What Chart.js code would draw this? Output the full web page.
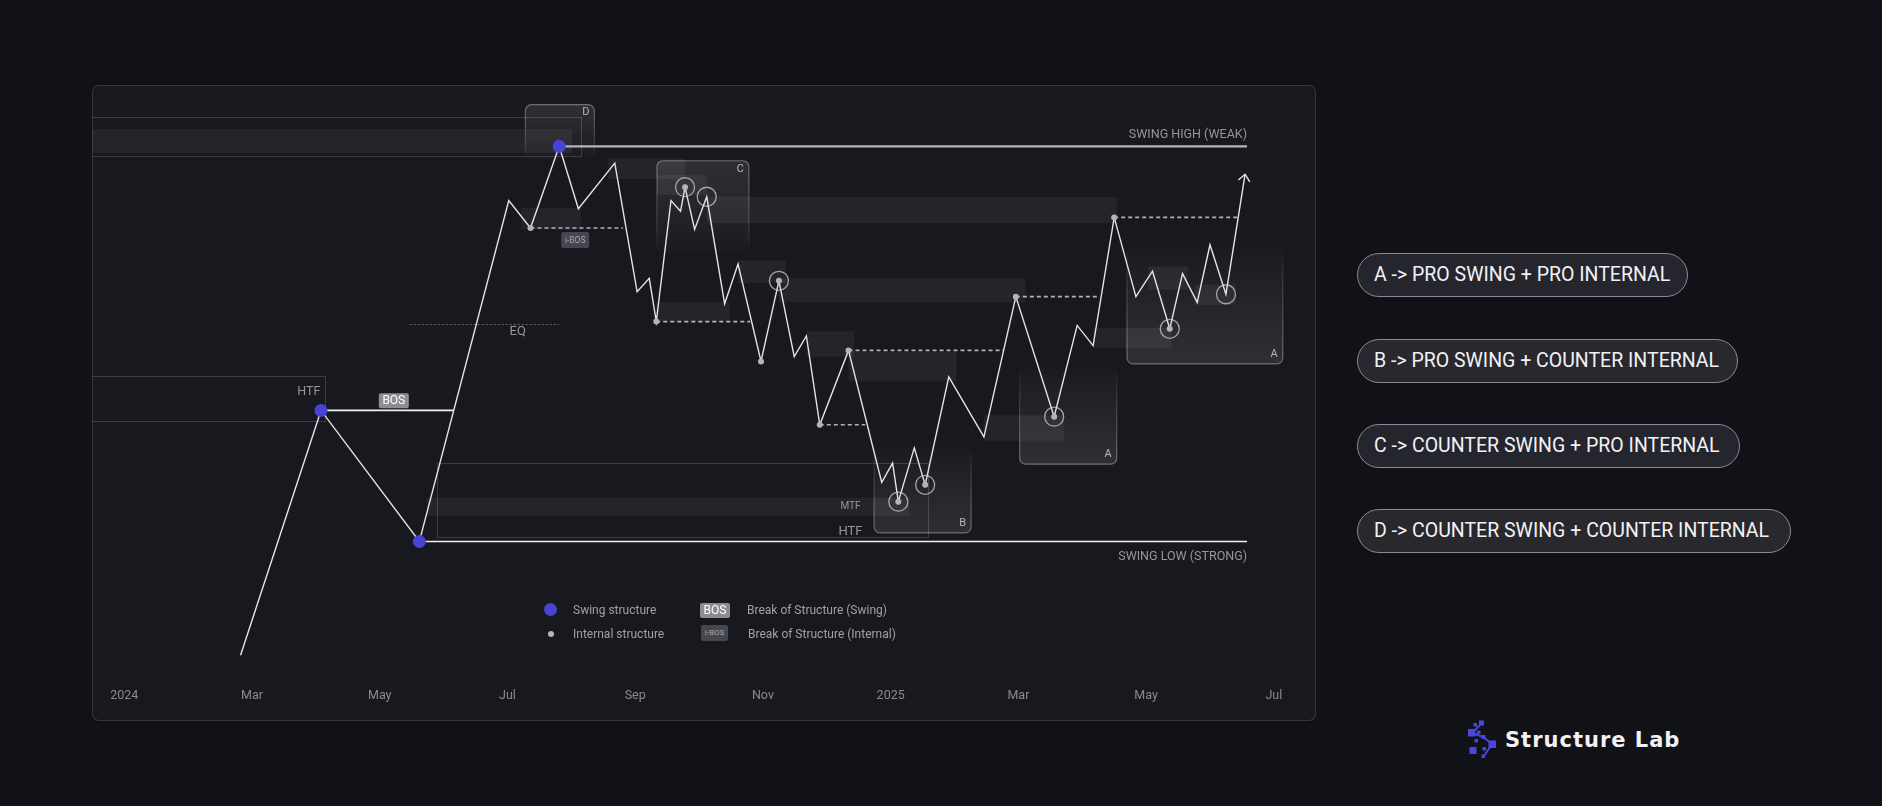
<!DOCTYPE html>
<html>
<head>
<meta charset="utf-8">
<title>Structure Lab</title>
<script src="https://cdn.jsdelivr.net/npm/chart.js@4.4.1/dist/chart.umd.min.js"></script>
<style>
html, body { margin: 0; padding: 0; background: #111118; }
body { width: 1882px; height: 806px; position: relative; overflow: hidden; font-family: Roboto, "Noto Sans", sans-serif; }
#panel { position: absolute; left: 92px; top: 85px; width: 1222px; height: 634px; border: 1px solid rgba(255,255,255,0.13); border-radius: 7px; background: #18181f; }
#wrap { position: absolute; left: 92px; top: 85px; width: 1224px; height: 636px; }
.lg { position: absolute; color: #a0a0a8; font-size: 12px; line-height: 14px; white-space: nowrap; transform: translateY(-50%); }
.dot { position: absolute; border-radius: 50%; }
.badge { position: absolute; border-radius: 2px; text-align: center; }
.pill { position: absolute; left: 1357px; height: 44px; box-sizing: border-box; border: 1.5px solid #8a8a92; border-radius: 22px; background: #25262d; color: #f2f2f5; font-size: 19.5px; line-height: 41px; padding-left: 16px; white-space: nowrap; }
#brand { position: absolute; left: 1505px; top: 727px; color: #f2f2f6; font-family: "DejaVu Sans", sans-serif; font-weight: bold; font-size: 21px; line-height: 26px; letter-spacing: 1px; }
</style>
</head>
<body>
<div id="panel"></div>
<div id="wrap"><canvas id="chart"></canvas></div>

<div class="dot" style="left:544px;top:603px;width:13px;height:13px;background:#4843d6;"></div>
<div class="lg" style="left:573px;top:610px;">Swing structure</div>
<div class="dot" style="left:548px;top:631px;width:6px;height:6px;background:#b4b4bc;"></div>
<div class="lg" style="left:573px;top:634px;">Internal structure</div>
<div class="badge" style="left:700px;top:603px;width:30px;height:15px;background:#8c8c94;color:#fff;font-size:12px;line-height:15px;">BOS</div>
<div class="lg" style="left:747px;top:610px;">Break of Structure (Swing)</div>
<div class="badge" style="left:701px;top:625px;width:27px;height:16px;background:#46464e;color:#a8a8b0;font-size:8px;line-height:16px;">i-BOS</div>
<div class="lg" style="left:748px;top:634px;">Break of Structure (Internal)</div>

<div class="pill" style="top:253px;width:331px;">A -&gt; PRO SWING + PRO INTERNAL</div>
<div class="pill" style="top:339px;width:381px;background:#29282f;">B -&gt; PRO SWING + COUNTER INTERNAL</div>
<div class="pill" style="top:424px;width:383px;">C -&gt; COUNTER SWING + PRO INTERNAL</div>
<div class="pill" style="top:509px;width:434px;background:#29292d;">D -&gt; COUNTER SWING + COUNTER INTERNAL</div>

<svg style="position:absolute;left:1462px;top:716px;" width="44" height="46" viewBox="0 0 44 46">
  <g fill="#4b46e0" stroke="#4b46e0" stroke-width="2">
    <line x1="10" y1="17" x2="19" y2="8" />
    <line x1="10" y1="17" x2="21" y2="21" />
    <line x1="21" y1="21" x2="30" y2="28" />
    <line x1="30" y1="28" x2="22" y2="40" />
    <rect x="17" y="4.5" width="5" height="5" stroke="none" />
    <rect x="11.5" y="7" width="3.5" height="3.5" stroke="none" />
    <rect x="6" y="13" width="7.5" height="7.5" stroke="none" />
    <rect x="15" y="14.5" width="3.5" height="3.5" stroke="none" />
    <rect x="19.5" y="19" width="4" height="4" stroke="none" />
    <rect x="12.5" y="23" width="3.5" height="3.5" stroke="none" />
    <rect x="26.5" y="24.5" width="7.5" height="7.5" stroke="none" />
    <rect x="7.5" y="31" width="7" height="7" stroke="none" />
    <rect x="20.5" y="31" width="3.5" height="3.5" stroke="none" />
    <rect x="19.5" y="38.5" width="3.5" height="3.5" stroke="none" />
  </g>
</svg>
<div id="brand">Structure Lab</div>

<script>
// x = months since Jan 2024, y = price
var tickLabels = ["2024", "Mar", "May", "Jul", "Sep", "Nov", "2025", "Mar", "May", "Jul"];

var pathMonth = [1.82, 3.08, 4.62, 6.02, 6.36, 6.81, 7.11, 7.68, 8.03, 8.22, 8.33, 8.56, 8.71, 8.78, 8.93, 9.12, 9.40, 9.61, 9.97, 10.25, 10.49, 10.68, 10.89, 11.34, 11.86, 12.03, 12.12, 12.37, 12.54, 12.91, 13.46, 13.96, 14.56, 14.92, 15.17, 15.50, 15.84, 16.10, 16.37, 16.57, 16.80, 17.00, 17.25, 17.55];
var pathPrice = [56.4, 107.4, 80.1, 151.1, 145.4, 162.4, 149.4, 158.9, 132.1, 134.9, 125.9, 151.1, 148.9, 153.9, 145.1, 151.9, 129.6, 137.9, 117.6, 134.4, 118.6, 122.9, 104.4, 119.9, 92.4, 96.4, 88.4, 99.6, 91.9, 114.4, 101.9, 131.1, 106.1, 125.1, 120.9, 147.6, 131.1, 136.4, 124.4, 135.9, 129.9, 141.9, 131.6, 156.6];

var swingMonth = [3.08, 4.62, 6.81];
var swingPrice = [107.4, 80.1, 162.4];

var internalMonth = [6.36, 8.33, 8.78, 9.97, 10.25, 10.89, 11.34, 12.12, 12.54, 13.96, 14.56, 15.50, 16.37];
var internalPrice = [145.4, 125.9, 153.9, 117.6, 134.4, 104.4, 119.9, 88.4, 91.9, 131.1, 106.1, 147.6, 124.4];

var ringMonth = [8.78, 9.12, 10.25, 12.12, 12.54, 14.56, 16.37, 17.25];
var ringPrice = [153.9, 151.9, 134.4, 88.4, 91.9, 106.1, 124.4, 131.6];

// swing high, swing low, BOS
var levelFrom = [6.81, 4.62, 3.08];
var levelTo = [17.58, 17.58, 5.15];
var levelPrice = [162.4, 80.1, 107.4];

var iBosFrom = [6.36, 8.33, 10.89, 11.34, 13.96, 15.50];
var iBosTo = [7.81, 9.80, 11.60, 13.76, 15.26, 17.45];
var iBosPrice = [145.4, 125.9, 104.4, 119.9, 131.1, 147.6];

var eqFrom = 4.47, eqTo = 6.81, eqPrice = 125.3;

// order blocks
var zoneFrom = [-0.6, 6.21, 7.58, 9.12, 9.61, 10.25, 8.33, 10.68, 11.34, 13.46, 15.17, 16.03, 16.76, 4.74, 8.34];
var zoneTo = [7.01, 7.15, 8.78, 15.54, 10.36, 14.11, 9.48, 11.43, 13.03, 14.71, 16.40, 16.65, 17.40, 12.29, 9.12];
var zoneTop = [166.0, 149.6, 159.9, 151.9, 138.6, 134.9, 129.9, 123.9, 119.6, 106.4, 124.6, 137.4, 133.6, 89.2, 156.4];
var zoneBottom = [161.0, 145.1, 155.6, 146.4, 133.9, 129.9, 125.9, 118.6, 113.4, 101.1, 120.4, 132.6, 129.4, 85.4, 152.3];

// HTF ranges
var rangeFrom = [-0.6, -0.6, 4.90];
var rangeTo = [7.15, 3.15, 12.58];
var rangeTop = [168.5, 114.6, 96.4];
var rangeBottom = [160.4, 105.2, 81.0];

// A/B/C/D examples
var cardName = ["D", "C", "B", "A", "A"];
var cardFrom = [6.28, 8.34, 11.74, 14.02, 15.70];
var cardTo = [7.36, 9.78, 13.26, 15.54, 18.14];
var cardTop = [171.1, 159.4, 99.6, 116.2, 141.2];
var cardBottom = [159.8, 140.4, 81.9, 96.2, 117.1];

var noteText = ["SWING HIGH (WEAK)", "SWING LOW (STRONG)", "EQ", "HTF", "MTF", "HTF"];
var noteMonth = [17.58, 17.58, 6.16, 3.07, 11.37, 11.37];
var notePrice = [164.8, 76.9, 123.8, 111.2, 87.3, 82.1];

var badgeText = ["BOS", "i-BOS"];
var badgeMonth = [4.22, 7.06];
var badgePrice = [109.4, 142.9];

var toPoints = function (xs, ys) {
  return xs.map(function (v, i) { return { x: v, y: ys[i] }; });
};

var segments = function (from, to, price) {
  var out = [];
  from.forEach(function (f, i) {
    out.push({ x: f, y: price[i] }, { x: to[i], y: price[i] }, { x: to[i], y: null });
  });
  return out;
};

var roundRect = function (ctx, x, y, w, h, r) {
  ctx.beginPath();
  ctx.moveTo(x + r, y);
  ctx.arcTo(x + w, y, x + w, y + h, r);
  ctx.arcTo(x + w, y + h, x, y + h, r);
  ctx.arcTo(x, y + h, x, y, r);
  ctx.arcTo(x, y, x + w, y, r);
  ctx.closePath();
};

var structurePlugin = {
  id: "structure",
  beforeDatasetsDraw: function (chart) {
    var ctx = chart.ctx, a = chart.chartArea, x = chart.scales.x, y = chart.scales.y;
    ctx.save();
    ctx.beginPath();
    ctx.rect(a.left, a.top, a.width, a.height);
    ctx.clip();

    ctx.fillStyle = "rgba(255,255,255,0.055)";
    for (var i = 0; i < zoneFrom.length; i++) {
      var l = x.getPixelForValue(zoneFrom[i]), r = x.getPixelForValue(zoneTo[i]);
      var t = y.getPixelForValue(zoneTop[i]), b = y.getPixelForValue(zoneBottom[i]);
      ctx.fillRect(l, t, r - l, b - t);
    }

    ctx.strokeStyle = "rgba(255,255,255,0.15)";
    ctx.lineWidth = 1;
    for (var j = 0; j < rangeFrom.length; j++) {
      var l2 = Math.round(x.getPixelForValue(rangeFrom[j])) + 0.5, r2 = Math.round(x.getPixelForValue(rangeTo[j])) + 0.5;
      var t2 = Math.round(y.getPixelForValue(rangeTop[j])) + 0.5, b2 = Math.round(y.getPixelForValue(rangeBottom[j])) + 0.5;
      ctx.strokeRect(l2, t2, r2 - l2, b2 - t2);
    }

    for (var k = 0; k < cardName.length; k++) {
      var cl = x.getPixelForValue(cardFrom[k]), cr = x.getPixelForValue(cardTo[k]);
      var ct = y.getPixelForValue(cardTop[k]), cb = y.getPixelForValue(cardBottom[k]);
      var fromTop = cardName[k] === "C" || cardName[k] === "D";
      var fill = ctx.createLinearGradient(0, ct, 0, cb);
      var edge = ctx.createLinearGradient(0, ct, 0, cb);
      if (fromTop) {
        fill.addColorStop(0, "rgba(255,255,255,0.10)");
        fill.addColorStop(1, "rgba(255,255,255,0.01)");
        edge.addColorStop(0, "rgba(255,255,255,0.34)");
        edge.addColorStop(0.75, "rgba(255,255,255,0.12)");
        edge.addColorStop(1, "rgba(255,255,255,0.0)");
      } else {
        fill.addColorStop(0, "rgba(255,255,255,0.01)");
        fill.addColorStop(1, "rgba(255,255,255,0.10)");
        edge.addColorStop(0, "rgba(255,255,255,0.0)");
        edge.addColorStop(0.25, "rgba(255,255,255,0.12)");
        edge.addColorStop(1, "rgba(255,255,255,0.34)");
      }
      roundRect(ctx, cl, ct, cr - cl, cb - ct, 6);
      ctx.fillStyle = fill;
      ctx.fill();
      ctx.strokeStyle = edge;
      ctx.lineWidth = 1.2;
      ctx.stroke();
    }
    ctx.restore();
  },
  afterDatasetsDraw: function (chart) {
    var ctx = chart.ctx, x = chart.scales.x, y = chart.scales.y;
    ctx.save();

    // card letters
    ctx.fillStyle = "#b5b5bd";
    ctx.font = "11px Roboto";
    ctx.textAlign = "right";
    ctx.textBaseline = "middle";
    for (var k = 0; k < cardName.length; k++) {
      var cr = x.getPixelForValue(cardTo[k]);
      var ct = y.getPixelForValue(cardTop[k]), cb = y.getPixelForValue(cardBottom[k]);
      var fromTop = cardName[k] === "C" || cardName[k] === "D";
      ctx.fillText(cardName[k], cr - 5, fromTop ? ct + 8 : cb - 10);
    }

    // level notes
    var noteAlign = ["right", "right", "center", "right", "center", "center"];
    var noteSize = [12.5, 12.5, 13, 12.5, 10, 13];
    ctx.fillStyle = "#96969f";
    for (var i = 0; i < noteText.length; i++) {
      ctx.font = noteSize[i] + "px Roboto";
      ctx.textAlign = noteAlign[i];
      ctx.fillText(noteText[i], x.getPixelForValue(noteMonth[i]), y.getPixelForValue(notePrice[i]));
    }

    // BOS badges
    var badgeW = [30, 28], badgeH = [15, 16];
    var badgeFill = ["#8d8d95", "rgba(110,110,118,0.55)"];
    var badgeInk = ["#ffffff", "#a5a5ad"];
    var badgeFont = ["12px Roboto", "8.5px Roboto"];
    for (var j = 0; j < badgeText.length; j++) {
      var bx = x.getPixelForValue(badgeMonth[j]), by = y.getPixelForValue(badgePrice[j]);
      roundRect(ctx, bx - badgeW[j] / 2, by - badgeH[j] / 2, badgeW[j], badgeH[j], 2);
      ctx.fillStyle = badgeFill[j];
      ctx.fill();
      ctx.fillStyle = badgeInk[j];
      ctx.font = badgeFont[j];
      ctx.textAlign = "center";
      ctx.fillText(badgeText[j], bx, by + 0.5);
    }

    // arrow head on the last leg
    var pts = chart.getDatasetMeta(3).data;
    var p1 = pts[pts.length - 2], p2 = pts[pts.length - 1];
    var ang = Math.atan2(p2.y - p1.y, p2.x - p1.x);
    ctx.strokeStyle = "#e4e4ea";
    ctx.lineWidth = 1.4;
    ctx.beginPath();
    ctx.moveTo(p2.x + 9 * Math.cos(ang + Math.PI - 0.7), p2.y + 9 * Math.sin(ang + Math.PI - 0.7));
    ctx.lineTo(p2.x, p2.y);
    ctx.lineTo(p2.x + 9 * Math.cos(ang + Math.PI + 0.7), p2.y + 9 * Math.sin(ang + Math.PI + 0.7));
    ctx.stroke();
    ctx.restore();
  }
};

var chart = new Chart(document.getElementById("chart"), {
  type: "line",
  data: {
    datasets: [{
      label: "Swing structure",
      data: toPoints(swingMonth, swingPrice),
      showLine: false,
      pointRadius: 6.5,
      pointBackgroundColor: "#4843d6",
      pointBorderWidth: 0,
      order: 0
    }, {
      label: "Internal structure",
      data: toPoints(internalMonth, internalPrice),
      showLine: false,
      pointRadius: 3,
      pointBackgroundColor: "#b4b4bc",
      pointBorderWidth: 0,
      order: 1
    }, {
      label: "Rings",
      data: toPoints(ringMonth, ringPrice),
      showLine: false,
      pointRadius: 9.5,
      pointBackgroundColor: "rgba(0,0,0,0)",
      pointBorderColor: "rgba(205,205,215,0.75)",
      pointBorderWidth: 1.3,
      order: 2
    }, {
      label: "Price",
      data: toPoints(pathMonth, pathPrice),
      borderColor: "#e4e4ea",
      borderWidth: 1.4,
      pointRadius: 0,
      tension: 0,
      order: 3
    }, {
      label: "Swing high",
      data: [{ x: levelFrom[0], y: levelPrice[0] }, { x: levelTo[0], y: levelPrice[0] }],
      borderColor: "#b4b4bc",
      borderWidth: 2.4,
      pointRadius: 0,
      order: 4
    }, {
      label: "Swing low",
      data: [{ x: levelFrom[1], y: levelPrice[1] }, { x: levelTo[1], y: levelPrice[1] }],
      borderColor: "#f0f0f4",
      borderWidth: 1.6,
      pointRadius: 0,
      order: 4
    }, {
      label: "BOS",
      data: [{ x: levelFrom[2], y: levelPrice[2] }, { x: levelTo[2], y: levelPrice[2] }],
      borderColor: "#f0f0f4",
      borderWidth: 1.8,
      pointRadius: 0,
      order: 4
    }, {
      label: "i-BOS",
      data: segments(iBosFrom, iBosTo, iBosPrice),
      borderColor: "#b2b2ba",
      borderWidth: 1.6,
      borderDash: [4, 3],
      pointRadius: 0,
      spanGaps: false,
      order: 5
    }, {
      label: "EQ",
      data: [{ x: eqFrom, y: eqPrice }, { x: eqTo, y: eqPrice }],
      borderColor: "#686872",
      borderWidth: 1,
      borderDash: [2, 2],
      pointRadius: 0,
      order: 6
    }]
  },
  options: {
    responsive: true,
    maintainAspectRatio: false,
    animation: false,
    events: [],
    layout: { autoPadding: false, padding: { left: 0, right: 0, top: 0, bottom: 14.8 } },
    plugins: { legend: { display: false }, tooltip: { enabled: false } },
    scales: {
      x: {
        type: "linear",
        min: -0.506,
        max: 18.66,
        grid: { display: false, drawTicks: false },
        border: { display: false },
        afterBuildTicks: function (scale) {
          scale.ticks = tickLabels.map(function (_, i) { return { value: i * 2 }; });
        },
        ticks: {
          color: "#8a8a93",
          font: { family: "Roboto", size: 12.5 },
          padding: 2.6,
          maxRotation: 0,
          autoSkip: false,
          callback: function (value, index) { return tickLabels[index]; }
        }
      },
      y: { type: "linear", display: false, min: 50, max: 175.18 }
    }
  },
  plugins: [structurePlugin]
});
</script>
</body>
</html>
